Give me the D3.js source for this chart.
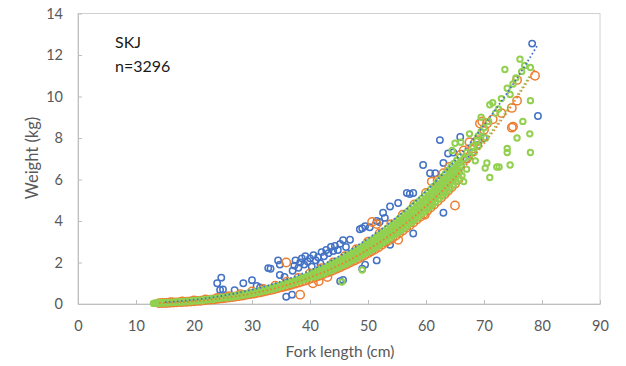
<!DOCTYPE html>
<html>
<head>
<meta charset="utf-8">
<script src="https://cdn.jsdelivr.net/npm/d3@7"></script>
<style>
  html, body { margin: 0; padding: 0; background: #fff; }
  svg { display: block; }
  text { font-family: Lato, "Open Sans", "Liberation Sans", sans-serif; }
</style>
</head>
<body>
<svg id="chart" width="626" height="366"></svg>
<script>
// Axis ticks
const xTicks = [0, 10, 20, 30, 40, 50, 60, 70, 80, 90];
const yTicks = [0, 2, 4, 6, 8, 10, 12, 14];

// Annotation
const species = "SKJ";
const sampleSize = "n=3296";

// Fork length (cm), weight (kg) — series 1 (blue)
const blueFish = [
  [15,0.06],[16,0.07],[17,0.09],[18,0.1],[19,0.12],[20,0.15],[21,0.17],[22,0.2],[23,0.23],[24,0.26],
  [25,0.3],[26,0.34],[27,0.38],[28,0.43],[29,0.48],[30,0.53],[31,0.59],[32,0.66],[33,0.72],[34,0.8],
  [35,0.87],[36,0.96],[37,1.04],[38,1.14],[39,1.23],[40,1.34],[41,1.45],[42,1.56],[43,1.69],[44,1.82],
  [45,1.95],[46,2.09],[47,2.24],[48,2.4],[49,2.56],[50,2.73],[51,2.91],[52,3.1],[53,3.29],[54,3.5],
  [55,3.71],[56,3.93],[57,4.16],[58,4.4],[59,4.64],[60,4.89],[61,5.16],[62,5.44],[63,5.72],[64,6.02],
  [65,6.33],[66,6.64],[67,6.97],[68,7.3],[69,7.66],[70,8.0],
  [24,1.0],[24.7,1.27],[24.5,0.68],[25,0.7],[27,0.67],[28.5,1.0],[30,1.15],[30.8,0.87],[31.4,0.8],
  [32.8,1.73],[33.2,1.7],[34.5,2.1],[34.8,1.9],[34.8,1.4],[35.6,1.3],[35.9,0.35],[36.9,0.45],
  [37,1.6],[37.3,1.85],[37.5,2.1],[38,1.75],[38.3,2.0],[38.6,2.2],[39,1.9],[39.2,2.3],[39.6,2.05],
  [40,2.2],[40.3,1.8],[40.6,2.35],[41,2.1],[41.4,2.25],[41.8,1.95],[42,2.5],[42.4,2.3],[42.8,2.6],
  [43.2,2.45],[43.6,2.75],[44,2.55],[44.3,2.8],[44.8,2.6],[45.2,2.9],[45.7,3.08],[46.2,2.75],[46.9,3.1],
  [48.6,3.6],[49,3.65],[49.5,3.75],[50.3,3.7],[51.5,4.0],[52,3.95],[52.6,4.4],[52.9,4.15],[53.8,4.7],
  [55.2,4.87],[56.7,5.35],[57.2,5.3],[57.8,5.35],[59.5,6.7],[60.7,6.3],[61.6,6.3],[63,6.8],[62.4,7.9],
  [63.8,7.25],[64.7,7.3],[65.9,8.05],[78.3,12.55],[79.3,9.06],
  [45.2,1.1],[45.7,1.16],[49,1.7],[49.5,1.9],[51.5,2.1],[53.8,2.85],[57.8,3.4],[63,4.4]
];

// Series 2 (orange)
const orangeFish = [
  [14,0.04],[14.6,0.05],[15.2,0.05],[15.8,0.06],[16.4,0.07],[17,0.08],[17.6,0.09],[18.2,0.1],[18.8,0.11],
  [19.4,0.12],[20,0.13],[20.6,0.15],[21.2,0.16],[21.8,0.18],[22.4,0.2],[23,0.21],[23.6,0.23],[24.2,0.25],
  [24.8,0.27],[25.4,0.29],[26,0.31],[26.6,0.33],[27.2,0.36],[27.8,0.38],[28.4,0.41],[29,0.44],[29.6,0.47],
  [30.2,0.5],[30.8,0.53],[31.4,0.56],[32,0.6],[32.6,0.64],[33.2,0.67],[33.8,0.71],[34.4,0.76],[35,0.8],
  [35.6,0.84],[36.2,0.88],[36.8,0.93],[37.4,0.98],[38,1.03],[38.6,1.08],[39.2,1.13],[39.8,1.19],[40.4,1.25],
  [41,1.3],[41.6,1.36],[42.2,1.43],[42.8,1.5],[43.4,1.56],[44,1.63],[44.6,1.7],[45.2,1.77],[45.8,1.85],
  [46.4,1.93],[47,2.01],[47.6,2.09],[48.2,2.17],[48.8,2.26],[49.4,2.35],[50,2.45],[50.6,2.54],[51.2,2.64],
  [51.8,2.74],[52.4,2.85],[53,2.96],[53.6,3.07],[54.2,3.18],[54.8,3.3],[55.4,3.42],[56,3.54],[56.6,3.67],
  [57.2,3.8],[57.8,3.93],[58.4,4.07],[59,4.2],[59.6,4.35],[60.2,4.5],[60.8,4.65],[61.4,4.8],[62,4.96],
  [62.6,5.12],[63.2,5.29],[63.8,5.46],[64.4,5.63],[65,5.8],[65.6,6.0],
  [16,0.09],[18,0.12],[20,0.17],[22,0.22],[24,0.29],[26,0.37],[28,0.47],
  [30,0.6],[32,0.72],[34,0.88],[36,1.07],[38,1.25],[40,1.47],[42,1.72],[44,2.0],[46,2.3],[48,2.64],
  [50,3.0],[52,3.4],[54,3.85],[56,4.3],[58,4.8],[60,5.35],[62,5.95],[64,6.6],[66,7.2],[67,7.0],
  [68,7.5],[69,7.9],[70,8.4],[70.5,8.7],
  [35.9,2.0],[38.3,0.45],[40.5,1.0],[41.5,1.1],[43,1.3],[65,4.75],[55.2,3.1],[59.8,4.3],[50.7,3.95],
  [51.5,3.85],[78.8,11.0],[75.7,10.8],[74.8,9.45],[75.7,9.8],[69.7,8.8],[75,8.55],[73,9.2],[71.5,8.9],
  [67.5,7.8],[66.5,7.4],[63,6.3],[61,5.9],[68.5,7.8],[69.3,8.7],[74.8,8.5]
];

// Series 3 (green)
const greenFish = [
  [13,0.03],[13.5,0.04],[14,0.05],[14.5,0.05],[15,0.06],[15.5,0.07],[16,0.07],[16.5,0.08],[17,0.09],
  [17.5,0.1],[18,0.1],[18.5,0.11],[19,0.12],[19.5,0.14],[20,0.15],[20.5,0.16],[21,0.17],[21.5,0.18],
  [22,0.2],[22.5,0.21],[23,0.23],[23.5,0.25],[24,0.26],[24.5,0.28],[25,0.3],
  [13.3,0.05],[14.2,0.06],[15.3,0.05],[16.2,0.08],[17.3,0.08],[18.2,0.12],[19.3,0.12],[20.2,0.17],
  [21.3,0.16],[22.2,0.22],[23.3,0.22],[24.2,0.29],
  [13.8,0.06],[14.8,0.07],[15.8,0.08],[16.8,0.1],[17.8,0.11],[18.8,0.13],[19.8,0.16],[20.8,0.18],
  [21.8,0.21],[22.8,0.24],[23.8,0.27],[24.8,0.31],
  [25.5,0.33],[25.7,0.3],[26,0.35],[26.3,0.33],[26.5,0.37],[26.8,0.35],[27,0.4],[27.3,0.37],[27.5,0.42],
  [27.8,0.4],[28,0.44],[28.3,0.42],[28.5,0.47],[28.8,0.45],[29,0.5],[29.3,0.47],[29.5,0.53],[29.8,0.5],
  [30,0.56],[30.3,0.52],[30.5,0.59],[30.8,0.56],[31,0.62],[31.3,0.58],[31.5,0.65],[31.8,0.62],[32,0.69],
  [32.3,0.64],[32.5,0.72],[32.8,0.68],[33,0.76],[33.3,0.71],[33.5,0.79],[33.8,0.75],[34,0.83],[34.3,0.78],
  [34.5,0.87],[34.8,0.82],[35,0.91],[35.3,0.86],[35.5,0.96],[35.8,0.9],[36,1.0],[36.3,0.94],[36.5,1.05],
  [36.8,0.98],[37,1.09],[37.3,1.03],[37.5,1.14],[37.8,1.07],[38,1.19],[38.3,1.12],[38.5,1.24],[38.8,1.17],
  [39,1.29],[39.3,1.21],[39.5,1.34],[39.8,1.26],[40,1.4],[40.3,1.32],
  [25.15,0.31],[25.65,0.32],[26.15,0.34],[26.65,0.36],[27.15,0.39],[27.65,0.41],[28.15,0.43],[28.65,0.46],
  [29.15,0.49],[29.65,0.51],[30.15,0.54],[30.65,0.57],[31.15,0.6],[31.65,0.63],[32.15,0.66],[32.65,0.7],
  [33.15,0.73],[33.65,0.77],[34.15,0.81],[34.65,0.85],[35.15,0.89],[35.65,0.93],[36.15,0.97],[36.65,1.01],
  [37.15,1.06],[37.65,1.1],[38.15,1.15],[38.65,1.2],[39.15,1.25],[39.65,1.3],
  [40.3,1.49],[40.5,1.39],[40.7,1.3],[40.8,1.55],[41,1.45],[41.2,1.35],[41.3,1.61],[41.5,1.5],[41.7,1.4],
  [41.8,1.67],[42,1.56],[42.2,1.45],[42.3,1.73],[42.5,1.62],[42.7,1.51],[42.8,1.81],[43,1.69],[43.2,1.57],
  [43.3,1.87],[43.5,1.75],[43.7,1.63],[43.8,1.95],[44,1.82],[44.2,1.69],[44.3,2.01],[44.5,1.88],[44.7,1.75],
  [44.8,2.09],[45,1.95],[45.2,1.81],[45.3,2.16],[45.5,2.02],[45.7,1.88],[45.8,2.24],[46,2.09],[46.2,1.94],
  [46.3,2.31],[46.5,2.16],[46.7,2.01],[46.8,2.4],[47,2.24],[47.2,2.08],[47.3,2.48],[47.5,2.32],[47.7,2.16],
  [47.8,2.57],[48,2.4],[48.2,2.23],[48.3,2.65],[48.5,2.48],[48.7,2.31],[48.8,2.74],[49,2.56],[49.2,2.38],
  [49.3,2.82],[49.5,2.64],[49.7,2.46],[49.8,2.92],[50,2.73],[50.2,2.54],[50.3,3.02],[50.5,2.82],[50.7,2.62],
  [50.8,3.11],[51,2.91],[51.2,2.71],[51.3,3.21],[51.5,3.0],[51.7,2.79],[51.8,3.32],[52,3.1],[52.2,2.88],
  [52.3,3.41],[52.5,3.19],[52.7,2.97],[52.8,3.52],[53,3.29],[53.2,3.06],[53.3,3.64],[53.5,3.4],[53.7,3.16],
  [53.8,3.75],[54,3.5],[54.2,3.26],[54.3,3.85],[54.5,3.6],[54.7,3.35],[54.8,3.97],[55,3.71],[55.2,3.45],
  [55.3,4.09],[55.5,3.82],[55.7,3.55],[55.8,4.21],[56,3.93],[56.2,3.65],[56.3,4.32],[56.5,4.04],[56.7,3.76],
  [56.8,4.45],[57,4.16],[57.2,3.87],[57.3,4.58],[57.5,4.28],[57.7,3.98],[57.8,4.71],[58,4.4],[58.2,4.09],
  [58.3,4.84],[58.5,4.52],[58.7,4.2],[58.8,4.96],[59,4.64],[59.2,4.32],[59.3,5.09],[59.5,4.76],[59.7,4.43],
  [59.8,5.23],[60,4.89],[60.2,4.55],[60.3,5.37],[60.5,5.02],[60.7,4.67],[60.8,5.52],[61,5.16],[61.2,4.8],
  [61.3,5.67],[61.5,5.3],[61.7,4.93],[61.8,5.82],[62,5.44],[62.2,5.06],[62.3,5.97],[62.5,5.58],[62.7,5.19],
  [62.8,6.12],[63,5.72],[63.2,5.32],[63.3,6.28],[63.5,5.87],[63.7,5.46],[63.8,6.44],[64,6.02],[64.2,5.6],
  [64.3,6.6],[64.5,6.17],[64.7,5.74],[64.8,6.77],[65,6.33],[65.2,5.89],[65.3,6.93],[65.5,6.48],[65.7,6.03],
  [65.8,7.1],[66,6.64],[66.2,6.18],
  [40.75,1.47],[40.75,1.37],[41.25,1.53],[41.25,1.42],[41.75,1.58],[41.75,1.48],[42.25,1.65],[42.25,1.53],
  [42.75,1.71],[42.75,1.6],[43.25,1.78],[43.25,1.66],[43.75,1.85],[43.75,1.72],[44.25,1.91],[44.25,1.79],
  [44.75,1.98],[44.75,1.85],[45.25,2.05],[45.25,1.92],[45.75,2.13],[45.75,1.98],[46.25,2.2],[46.25,2.05],
  [46.75,2.28],[46.75,2.12],[47.25,2.36],[47.25,2.2],[47.75,2.44],[47.75,2.28],[48.25,2.53],[48.25,2.35],
  [48.75,2.61],[48.75,2.43],[49.25,2.69],[49.25,2.51],[49.75,2.78],[49.75,2.59],[50.25,2.87],[50.25,2.68],
  [50.75,2.97],[50.75,2.76],[51.25,3.06],[51.25,2.85],[51.75,3.16],[51.75,2.94],[52.25,3.26],[52.25,3.03],
  [52.75,3.35],[52.75,3.13],[53.25,3.46],[53.25,3.23],[53.75,3.57],[53.75,3.33],[54.25,3.67],[54.25,3.43],
  [54.75,3.78],[54.75,3.53],[55.25,3.9],[55.25,3.63],[55.75,4.01],[55.75,3.74],[56.25,4.12],[56.25,3.85],
  [56.75,4.24],[56.75,3.96],[57.25,4.37],[57.25,4.07],[57.75,4.49],[57.75,4.19],[58.25,4.62],[58.25,4.3],
  [58.75,4.74],[58.75,4.42],[59.25,4.86],[59.25,4.54],[59.75,4.99],[59.75,4.66],[60.25,5.13],[60.25,4.78],
  [60.75,5.27],[60.75,4.91],[61.25,5.41],[61.25,5.05],[61.75,5.56],[61.75,5.18],[62.25,5.7],[62.25,5.32],
  [62.75,5.85],[62.75,5.45],[63.25,6.0],[63.25,5.59],[63.75,6.15],[63.75,5.74],[64.25,6.31],[64.25,5.88],
  [64.75,6.47],[64.75,6.03],[65.25,6.63],[65.25,6.18],[65.75,6.79],[65.75,6.33],
  [66.5,7.0],[67,7.3],[67.5,7.1],[68,7.6],[68.3,7.3],[68.8,7.9],[69,8.1],[69.5,8.3],[70,8.5],[70.3,8.0],
  [70.8,8.8],[71,9.6],[71.5,9.7],[72,9.2],[72.5,9.4],[73,9.9],[73.6,11.3],[74,10.4],[74.5,10.1],[75,10.6],
  [75.5,10.9],[76.2,11.8],[76.5,11.2],[77,11.5],[78,11.4],[78,9.8],[76.7,8.8],[77.9,8.2],[75.7,8.0],
  [78,7.3],[74,7.3],[74,7.5],[74.5,6.7],[72.2,6.6],[72.6,6.6],[71,6.1],[70.5,6.8],[70.2,6.55],[68.5,6.9],
  [69.5,9.0],[67.5,8.2],[69,7.6],[66.5,5.9],[67,6.5],[65,7.75],[64.5,7.4],[66,7.8],
  [45.5,1.06],[49,1.64]
];

const series = [
  { name: "blue",   data: blueFish,   color: "#4472C4", r: 3.2, sw: 1.5 },
  { name: "orange", data: orangeFish, color: "#ED7D31", r: 4.2, sw: 1.5 },
  { name: "green",  data: greenFish,  color: "#92D050", r: 2.7, sw: 2 }
];

const svg = d3.select("#chart");
const x = d3.scaleLinear().domain([0, 90]).range([78, 600]);
const y = d3.scaleLinear().domain([0, 14]).range([304, 13.5]);

// Plot frame
svg.append("rect")
  .attr("x", x(0)).attr("y", y(14))
  .attr("width", x(90) - x(0)).attr("height", y(0) - y(14))
  .attr("fill", "none").attr("stroke", "#d0d0d0").attr("stroke-width", 1);

// Axes
const xAxis = d3.axisBottom(x).tickValues(xTicks).tickSizeInner(-4).tickSizeOuter(0).tickPadding(17);
const yAxis = d3.axisLeft(y).tickValues(yTicks).tickSizeInner(-4).tickSizeOuter(0).tickPadding(15);

const gx = svg.append("g").attr("transform", `translate(0,${y(0)})`).call(xAxis);
const gy = svg.append("g").attr("transform", `translate(${x(0)},0)`).call(yAxis);
[gx, gy].forEach(g => {
  g.select(".domain").attr("stroke", "#bfbfbf");
  g.selectAll(".tick line").attr("stroke", "#bfbfbf");
  g.selectAll(".tick text").attr("fill", "#595959").style("font-size", "14.5px")
    .style("font-family", "Lato, 'Open Sans', sans-serif");
});

// Markers
series.forEach(s => {
  svg.append("g").selectAll("circle").data(s.data).join("circle")
    .attr("cx", d => x(d[0])).attr("cy", d => y(d[1]))
    .attr("r", s.r).attr("fill", "none")
    .attr("stroke", s.color).attr("stroke-width", s.sw);
});

// Power-law trendlines (W = a·L^b), least squares on log-log
function powerFit(data) {
  const lx = data.map(d => Math.log(d[0]));
  const ly = data.map(d => Math.log(d[1]));
  const mx = d3.mean(lx), my = d3.mean(ly);
  const b = d3.sum(lx, (v, i) => (v - mx) * (ly[i] - my)) / d3.sum(lx, v => (v - mx) * (v - mx));
  const a = Math.exp(my - b * mx);
  return { a, b };
}

const line = d3.line().x(d => x(d[0])).y(d => y(d[1]));
["green", "orange", "blue"].forEach(name => {
  const s = series.find(q => q.name === name);
  const fit = powerFit(s.data);
  const [lo, hi] = d3.extent(s.data, d => d[0]);
  const pts = d3.range(lo, hi + 0.001, 0.25).map(L => [L, fit.a * Math.pow(L, fit.b)]);
  svg.append("path").datum(pts).attr("d", line)
    .attr("fill", "none").attr("stroke", s.color)
    .attr("stroke-width", 1.8).attr("stroke-dasharray", "1.6,2.4");
});

// Axis titles
svg.append("text").attr("x", 340).attr("y", 357).attr("text-anchor", "middle")
  .attr("fill", "#595959").style("font-size", "15.5px").text("Fork length (cm)");
svg.append("text").attr("transform", "translate(38,158) rotate(-90)").attr("text-anchor", "middle")
  .attr("fill", "#595959").style("font-size", "16.5px").text("Weight (kg)");

// Species label
svg.append("text").attr("x", 115).attr("y", 48).attr("fill", "#1a1a1a")
  .style("font-size", "16px").text(species);
svg.append("text").attr("x", 115).attr("y", 72).attr("fill", "#1a1a1a")
  .style("font-size", "16px").text(sampleSize);
</script>
</body>
</html>
